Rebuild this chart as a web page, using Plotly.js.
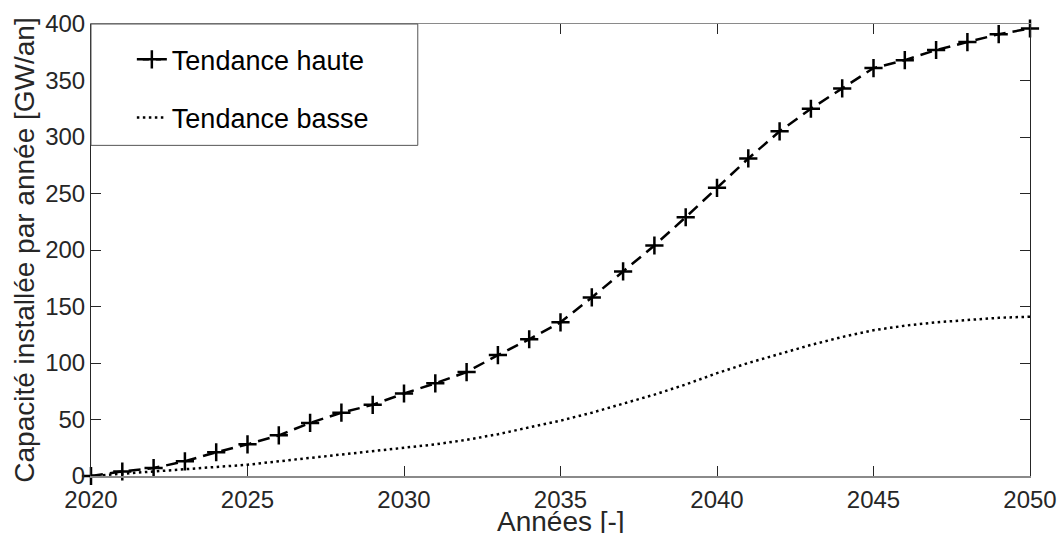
<!DOCTYPE html>
<html>
<head>
<meta charset="utf-8">
<script src="https://cdn.plot.ly/plotly-3.0.1.min.js"></script>
<style>html,body{margin:0;padding:0;background:#fff;}#chart{width:1059px;height:533px;}</style>
</head>
<body>
<div id="chart"></div>
<script>
const years = [2020,2021,2022,2023,2024,2025,2026,2027,2028,2029,2030,2031,2032,2033,2034,2035,2036,2037,2038,2039,2040,2041,2042,2043,2044,2045,2046,2047,2048,2049,2050];
const tendanceHaute = [0,4,7,13,21,28,36,47,56,63,73,82,92,107,121,136,158,181,204,229,255,281,305,325,343,361,368,377,384,391,396];
const tendanceBasse = [0,2,4,6,8,10,13,16,19,22,25,28,32,37,43,49,56,64,72,81,91,100,108,116,123,129,133,136,138,140,141];
const xTicks = [2020,2025,2030,2035,2040,2045,2050];
const yTicks = [0,50,100,150,200,250,300,350,400];
const seriesNames = ['Tendance haute','Tendance basse'];
const xTitle = 'Années [-]';
const yTitle = 'Capacité installée par année [GW/an]';

const FONT = 'Liberation Sans, Arial, Helvetica, sans-serif';
const AX = '#262626';

const traces = [
  {
    x: years, y: tendanceHaute, name: seriesNames[0], type: 'scatter', mode: 'lines+markers',
    legendgroup: 'a',
    line: {color: '#000', width: 2.5, dash: '12px,7px'},
    marker: {symbol: 'cross-thin-open', size: 13, color: '#000', line: {color: '#000', width: 2.5}},
    cliponaxis: false
  },
  {
    x: years, y: tendanceBasse, name: seriesNames[1], type: 'scatter', mode: 'lines',
    legendgroup: 'b',
    line: {color: '#000', width: 2.5, dash: '2.5px,3.5px'}
  }
];

const layout = {
  width: 1059, height: 533,
  margin: {l: 91, r: 29, t: 23.5, b: 57, pad: 0},
  paper_bgcolor: '#fff', plot_bgcolor: '#fff',
  font: {family: FONT, color: AX, size: 24},
  showlegend: true,
  legend: {
    x: 0.0435, y: 0.975, xanchor: 'left', yanchor: 'top',
    bgcolor: 'rgba(0,0,0,0)', borderwidth: 0,
    font: {family: FONT, size: 27, color: '#000'},
    tracegroupgap: 20, traceorder: 'grouped'
  },
  shapes: [{
    type: 'rect', xref: 'paper', yref: 'paper', layer: 'above',
    x0: 0, x1: 0.348, y0: 0.7315, y1: 1,
    fillcolor: '#fff', line: {color: '#555', width: 1}
  }],
  annotations: [{
    text: xTitle, xref: 'paper', yref: 'paper', x: 0.5, y: 0,
    xanchor: 'center', yanchor: 'top', yshift: -28, showarrow: false,
    font: {family: FONT, size: 28, color: AX}
  }],
  xaxis: {
    range: [2020, 2050], tickvals: xTicks, ticktext: xTicks.map(String),
    ticks: 'inside', ticklen: 10, tickwidth: 1, tickcolor: AX,
    showline: true, linecolor: '#8a8a8a', linewidth: 1.5, mirror: 'ticks',
    showgrid: false, zeroline: false, ticklabelstandoff: 2,
    tickfont: {family: FONT, size: 24, color: AX}
  },
  yaxis: {
    range: [0, 400], tickvals: yTicks, ticktext: yTicks.map(String),
    ticks: 'inside', ticklen: 10, tickwidth: 1, tickcolor: AX,
    showline: true, linecolor: AX, linewidth: 1, mirror: 'ticks',
    showgrid: false, zeroline: false,
    tickfont: {family: FONT, size: 24, color: AX},
    title: {text: yTitle, font: {family: FONT, size: 28, color: AX}, standoff: 2}
  }
};

Plotly.newPlot('chart', traces, layout, {displayModeBar: false, staticPlot: true});
</script>
</body>
</html>
